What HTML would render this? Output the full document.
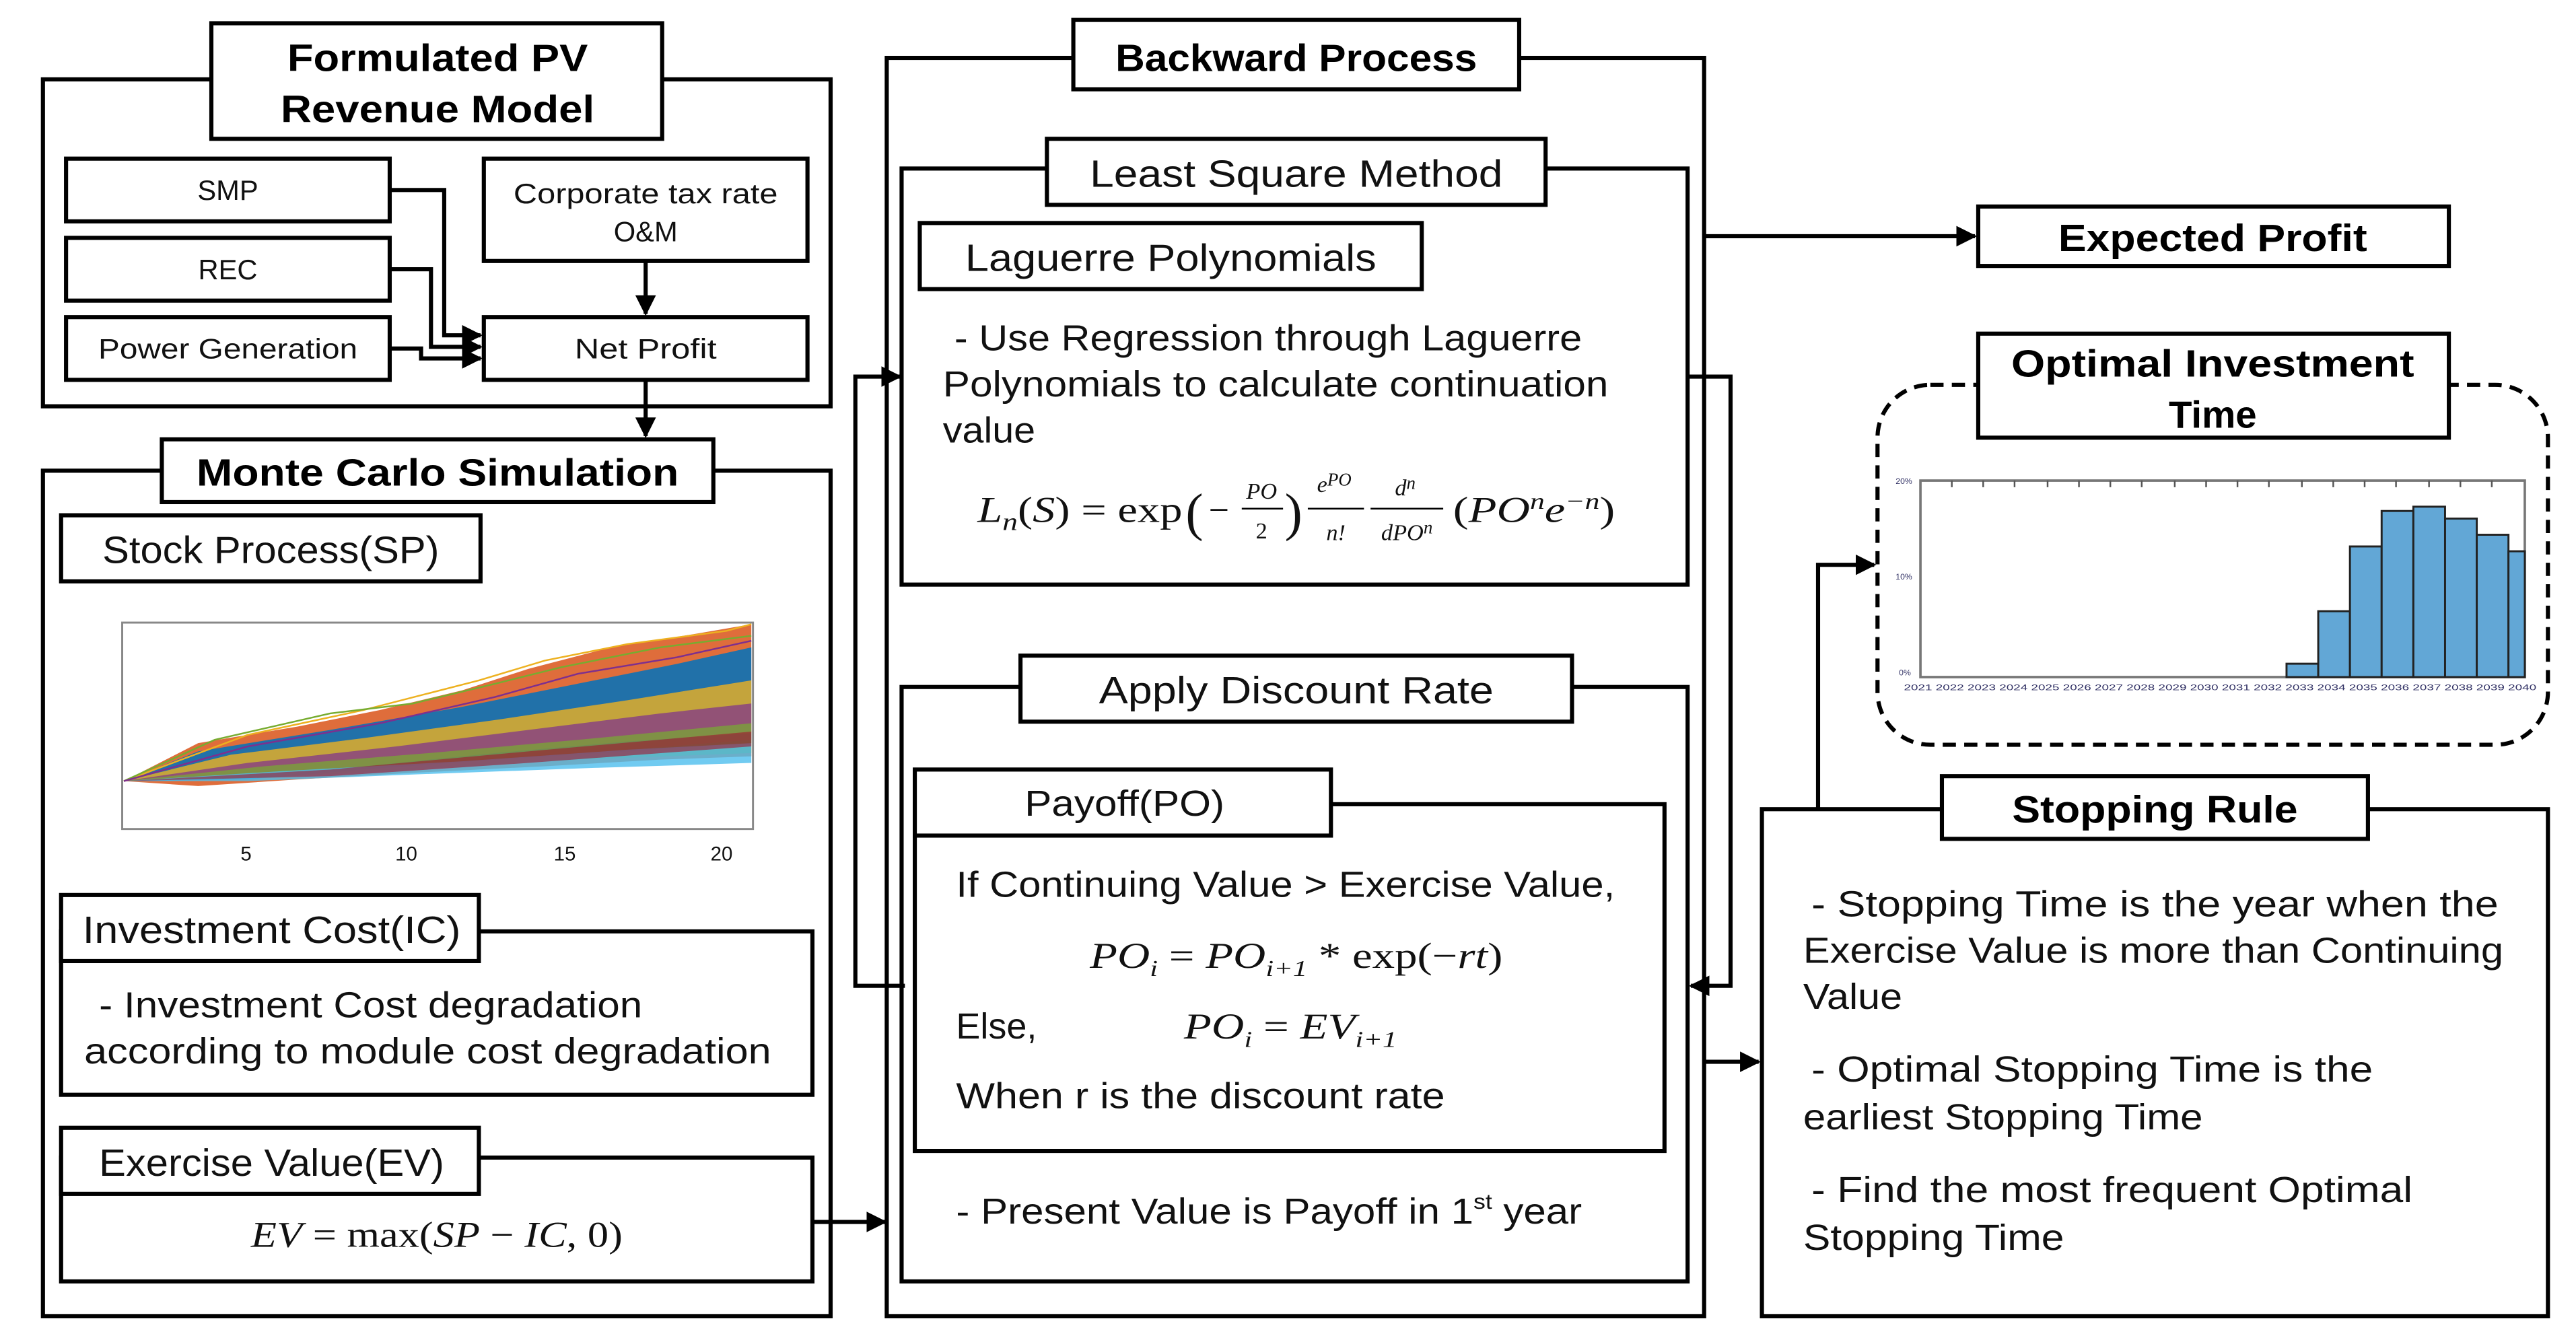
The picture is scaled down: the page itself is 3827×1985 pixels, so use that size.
<!DOCTYPE html>
<html><head><meta charset="utf-8"><style>
html,body{margin:0;padding:0;background:#fff;}
svg{display:block;}
.b{font-family:"Liberation Sans",sans-serif;font-weight:bold;font-size:23px;fill:#000;}
.t{font-family:"Liberation Sans",sans-serif;font-size:21px;fill:#111;}
.s{font-family:"Liberation Sans",sans-serif;font-size:17px;fill:#111;}
.m{font-family:"Liberation Serif",serif;font-style:italic;font-size:22px;fill:#111;}
.mn{font-family:"Liberation Serif",serif;font-size:22px;fill:#111;}
</style></head><body>
<svg width="3827" height="1985" viewBox="0 0 1560 809" xmlns="http://www.w3.org/2000/svg">
<defs>
<marker id="a" viewBox="0 0 10 10" refX="9" refY="5" markerWidth="5" markerHeight="5" orient="auto"><path d="M0,0L10,5L0,10z" fill="#000"/></marker>
</defs>
<g fill="none" stroke="#000" stroke-width="2.5">
<rect x="26" y="48" width="477" height="198"/>
<rect x="128" y="14" width="273" height="70" fill="#fff"/>
<rect x="40" y="96" width="196" height="38"/>
<rect x="40" y="144" width="196" height="38"/>
<rect x="40" y="192" width="196" height="38"/>
<rect x="293" y="96" width="196" height="62"/>
<rect x="293" y="192" width="196" height="38"/>
<path d="M236,115H269V203H291" marker-end="url(#a)"/>
<path d="M236,163H261V210H291" marker-end="url(#a)"/>
<path d="M236,211H255V217H291" marker-end="url(#a)"/>
<path d="M391,158V190" marker-end="url(#a)"/>
<path d="M391,230V264" marker-end="url(#a)"/>
<rect x="26" y="285" width="477" height="512"/>
<rect x="98" y="266" width="334" height="38" fill="#fff"/>
<rect x="37" y="312" width="254" height="40"/>
<rect x="37" y="564" width="455" height="99"/>
<rect x="37" y="542" width="253" height="40" fill="#fff"/>
<rect x="37" y="701" width="455" height="75"/>
<rect x="37" y="683" width="253" height="40" fill="#fff"/>
<path d="M492,740H536" marker-end="url(#a)"/>
<rect x="537" y="35" width="495" height="762"/>
<rect x="650" y="12" width="270" height="42" fill="#fff"/>
<rect x="546" y="102" width="476" height="252"/>
<rect x="634" y="84" width="302" height="40" fill="#fff"/>
<rect x="557" y="135" width="304" height="40"/>
<rect x="546" y="416" width="476" height="360"/>
<rect x="618" y="397" width="334" height="40" fill="#fff"/>
<rect x="554" y="487" width="454" height="210"/>
<rect x="554" y="466" width="252" height="40" fill="#fff"/>
<path d="M548,597H518V228H545" marker-end="url(#a)"/>
<path d="M1022,228H1048V597H1024" marker-end="url(#a)"/>
<path d="M1032,143H1196" marker-end="url(#a)"/>
<path d="M1032,643H1065" marker-end="url(#a)"/>
<rect x="1198" y="125" width="285" height="36"/>
<rect x="1137" y="233" width="406" height="218" rx="32" stroke-dasharray="8,5"/>
<rect x="1198" y="202" width="285" height="63" fill="#fff"/>
<rect x="1067" y="490" width="476" height="307"/>
<rect x="1176" y="470" width="258" height="38" fill="#fff"/>
<path d="M1101,490V342H1135" marker-end="url(#a)"/>
</g>
<text class="b" x="265" y="43" text-anchor="middle" textLength="182" lengthAdjust="spacingAndGlyphs">Formulated PV</text>
<text class="b" x="265" y="74" text-anchor="middle" textLength="190" lengthAdjust="spacingAndGlyphs">Revenue Model</text>
<text class="s" x="138" y="121" text-anchor="middle">SMP</text>
<text class="s" x="138" y="169" text-anchor="middle">REC</text>
<text class="s" x="138" y="217" text-anchor="middle" textLength="157" lengthAdjust="spacingAndGlyphs">Power Generation</text>
<text class="s" x="391" y="123" text-anchor="middle" textLength="160" lengthAdjust="spacingAndGlyphs">Corporate tax rate</text>
<text class="s" x="391" y="146" text-anchor="middle">O&amp;M</text>
<text class="s" x="391" y="217" text-anchor="middle" textLength="86" lengthAdjust="spacingAndGlyphs">Net Profit</text>
<text class="b" x="265" y="294" text-anchor="middle" textLength="292" lengthAdjust="spacingAndGlyphs">Monte Carlo Simulation</text>
<text class="t" x="62" y="341" textLength="204" lengthAdjust="spacingAndGlyphs" style="font-size:23px">Stock Process(SP)</text>
<text class="t" x="50" y="571" textLength="229" lengthAdjust="spacingAndGlyphs" style="font-size:23px">Investment Cost(IC)</text>
<text class="t" x="60" y="616" textLength="329" lengthAdjust="spacingAndGlyphs" style="font-size:22px">- Investment Cost degradation</text>
<text class="t" x="51" y="644" textLength="416" lengthAdjust="spacingAndGlyphs" style="font-size:22px">according to module cost degradation</text>
<text class="t" x="60" y="712" textLength="209" lengthAdjust="spacingAndGlyphs" style="font-size:23px">Exercise Value(EV)</text>
<text x="152" y="755" textLength="225" lengthAdjust="spacingAndGlyphs"><tspan class="m">EV</tspan><tspan class="mn"> = max(</tspan><tspan class="m">SP</tspan><tspan class="mn"> − </tspan><tspan class="m">IC</tspan><tspan class="mn">, 0)</tspan></text>
<g>
<rect x="74" y="377" width="382" height="125" fill="#fff" stroke="#888" stroke-width="1.2"/>
<polygon points="75,473 120,450 180,440 230,430 280,418 320,405 370,392 420,384 455,378 455,458 400,460 330,464 250,468 180,472 120,476" fill="#d95319" opacity="0.85"/>
<polygon points="75,473 120,455 200,442 280,428 350,414 410,402 455,392 455,450 380,455 300,460 220,466 150,472" fill="#0072bd" opacity="0.85"/>
<polygon points="75,473 140,457 220,447 300,436 380,424 455,412 455,444 380,449 300,456 220,464 140,470" fill="#edb120" opacity="0.8"/>
<polygon points="75,473 150,462 240,452 320,442 400,432 455,426 455,448 380,454 300,460 200,467" fill="#7e2f8e" opacity="0.7"/>
<polygon points="75,473 160,464 260,456 350,448 455,438 455,456 350,460 250,466 160,471" fill="#77ac30" opacity="0.7"/>
<polygon points="75,473 170,467 280,461 380,454 455,450 455,462 360,465 250,469 150,473" fill="#4dbeee" opacity="0.8"/>
<polygon points="75,473 200,466 320,455 455,443 455,452 320,462 200,470" fill="#a2142f" opacity="0.6"/>
<polyline points="75,473 150,445 220,430 290,412 330,400 380,390 440,382 455,378" fill="none" stroke="#edb120" stroke-width="1"/>
<polyline points="75,473 130,448 200,432 250,426 300,414 340,404 400,392 455,385" fill="none" stroke="#77ac30" stroke-width="1"/>
<polyline points="75,473 150,452 230,438 300,422 350,408 410,398 455,388" fill="none" stroke="#7e2f8e" stroke-width="1"/>
</g>
<g class="s" style="font-size:12px" text-anchor="middle">
<text x="149" y="521">5</text><text x="246" y="521">10</text><text x="342" y="521">15</text><text x="437" y="521">20</text>
</g>
<text class="b" x="785" y="43" text-anchor="middle" textLength="219" lengthAdjust="spacingAndGlyphs">Backward Process</text>
<text class="t" x="785" y="113" text-anchor="middle" textLength="250" lengthAdjust="spacingAndGlyphs" style="font-size:23px">Least Square Method</text>
<text class="t" x="709" y="164" text-anchor="middle" textLength="249" lengthAdjust="spacingAndGlyphs" style="font-size:23px">Laguerre Polynomials</text>
<text class="t" x="578" y="212" textLength="380" lengthAdjust="spacingAndGlyphs" style="font-size:22px">- Use Regression through Laguerre</text>
<text class="t" x="571" y="240" textLength="403" lengthAdjust="spacingAndGlyphs" style="font-size:22px">Polynomials to calculate continuation</text>
<text class="t" x="571" y="268" textLength="56" lengthAdjust="spacingAndGlyphs" style="font-size:22px">value</text>
<text x="592" y="316" textLength="124" lengthAdjust="spacingAndGlyphs"><tspan class="m">L</tspan><tspan class="m" style="font-size:15px" dy="5">n</tspan><tspan class="mn" dy="-5">(</tspan><tspan class="m">S</tspan><tspan class="mn">) = exp</tspan></text>
<text class="mn" x="718" y="321" style="font-size:32px">(</text>
<text class="mn" x="732" y="316">−</text>
<text class="m" x="764" y="302" text-anchor="middle" style="font-size:14px">PO</text>
<line x1="752" y1="308" x2="777" y2="308" stroke="#000" stroke-width="1"/>
<text class="mn" x="764" y="326" text-anchor="middle" style="font-size:14px">2</text>
<text class="mn" x="778" y="321" style="font-size:32px">)</text>
<text class="m" x="808" y="298" text-anchor="middle" style="font-size:14px">e<tspan style="font-size:11px" dy="-4">PO</tspan></text>
<line x1="792" y1="308" x2="826" y2="308" stroke="#000" stroke-width="1"/>
<text class="m" x="809" y="327" text-anchor="middle" style="font-size:14px">n!</text>
<text class="m" x="851" y="300" text-anchor="middle" style="font-size:14px">d<tspan style="font-size:11px" dy="-4">n</tspan></text>
<line x1="830" y1="308" x2="874" y2="308" stroke="#000" stroke-width="1"/>
<text class="m" x="852" y="327" text-anchor="middle" style="font-size:14px">dPO<tspan style="font-size:11px" dy="-4">n</tspan></text>
<text x="880" y="316" textLength="98" lengthAdjust="spacingAndGlyphs"><tspan class="mn">(</tspan><tspan class="m">PO</tspan><tspan class="m" style="font-size:14px" dy="-8">n</tspan><tspan class="m" dy="8">e</tspan><tspan class="m" style="font-size:14px" dy="-8">−n</tspan><tspan class="mn" dy="8">)</tspan></text>
<text class="t" x="785" y="426" text-anchor="middle" textLength="239" lengthAdjust="spacingAndGlyphs" style="font-size:23px">Apply Discount Rate</text>
<text class="t" x="681" y="494" text-anchor="middle" textLength="121" lengthAdjust="spacingAndGlyphs" style="font-size:22px">Payoff(PO)</text>
<text class="t" x="579" y="543" textLength="399" lengthAdjust="spacingAndGlyphs" style="font-size:22px">If Continuing Value &gt; Exercise Value,</text>
<text x="660" y="586" textLength="250" lengthAdjust="spacingAndGlyphs"><tspan class="m">PO</tspan><tspan class="m" style="font-size:14px" dy="5">i</tspan><tspan class="mn" dy="-5"> = </tspan><tspan class="m">PO</tspan><tspan class="m" style="font-size:14px" dy="5">i+1</tspan><tspan class="mn" dy="-5"> * exp(−</tspan><tspan class="m">rt</tspan><tspan class="mn">)</tspan></text>
<text class="t" x="579" y="629" style="font-size:22px">Else,</text>
<text x="717" y="629" textLength="129" lengthAdjust="spacingAndGlyphs"><tspan class="m">PO</tspan><tspan class="m" style="font-size:14px" dy="5">i</tspan><tspan class="mn" dy="-5"> = </tspan><tspan class="m">EV</tspan><tspan class="m" style="font-size:14px" dy="5">i+1</tspan></text>
<text class="t" x="579" y="671" textLength="296" lengthAdjust="spacingAndGlyphs" style="font-size:22px">When r is the discount rate</text>
<text class="t" x="579" y="741" textLength="379" lengthAdjust="spacingAndGlyphs" style="font-size:22px">- Present Value is Payoff in 1<tspan style="font-size:13px" dy="-9">st</tspan><tspan dy="9"> year</tspan></text>
<text class="b" x="1340" y="152" text-anchor="middle" textLength="187" lengthAdjust="spacingAndGlyphs">Expected Profit</text>
<text class="b" x="1340" y="228" text-anchor="middle" textLength="244" lengthAdjust="spacingAndGlyphs">Optimal Investment</text>
<text class="b" x="1340" y="259" text-anchor="middle">Time</text>
<g>
<rect x="1163" y="291" width="366" height="119" fill="#fff" stroke="#777" stroke-width="1.5"/>
<g fill="#62a7d6" stroke="#222" stroke-width="1.2">
<rect x="1384.7" y="401.9" width="19.2" height="8.1"/>
<rect x="1403.9" y="370.1" width="19.2" height="39.9"/>
<rect x="1423.1" y="330.9" width="19.2" height="79.1"/>
<rect x="1442.3" y="309.4" width="19.2" height="100.6"/>
<rect x="1461.5" y="306.8" width="19.2" height="103.2"/>
<rect x="1480.7" y="314" width="19.2" height="96"/>
<rect x="1499.9" y="323.8" width="19.2" height="86.2"/>
<rect x="1519.1" y="333.8" width="9.9" height="76.2"/>
</g>
<g stroke="#555" stroke-width="1">
<path d="M1182,291v4M1201,291v4M1220,291v4M1240,291v4M1259,291v4M1278,291v4M1297,291v4M1317,291v4M1336,291v4M1355,291v4M1374,291v4M1394,291v4M1413,291v4M1432,291v4M1451,291v4M1471,291v4M1490,291v4M1509,291v4"/>
</g>
<g style="font-family:'Liberation Sans',sans-serif;font-size:5px" fill="#336">
<text x="1148" y="293">20%</text><text x="1148" y="351">10%</text><text x="1150" y="409">0%</text>
<text x="1153" y="418" textLength="383" lengthAdjust="spacingAndGlyphs">2021 2022 2023 2024 2025 2026 2027 2028 2029 2030 2031 2032 2033 2034 2035 2036 2037 2038 2039 2040</text>
</g>
</g>
<text class="b" x="1305" y="498" text-anchor="middle" textLength="173" lengthAdjust="spacingAndGlyphs">Stopping Rule</text>
<text class="t" x="1097" y="555" textLength="416" lengthAdjust="spacingAndGlyphs" style="font-size:22px">- Stopping Time is the year when the</text>
<text class="t" x="1092" y="583" textLength="424" lengthAdjust="spacingAndGlyphs" style="font-size:22px">Exercise Value is more than Continuing</text>
<text class="t" x="1092" y="611" textLength="60" lengthAdjust="spacingAndGlyphs" style="font-size:22px">Value</text>
<text class="t" x="1097" y="655" textLength="340" lengthAdjust="spacingAndGlyphs" style="font-size:22px">- Optimal Stopping Time is the</text>
<text class="t" x="1092" y="684" textLength="242" lengthAdjust="spacingAndGlyphs" style="font-size:22px">earliest Stopping Time</text>
<text class="t" x="1097" y="728" textLength="364" lengthAdjust="spacingAndGlyphs" style="font-size:22px">- Find the most frequent Optimal</text>
<text class="t" x="1092" y="757" textLength="158" lengthAdjust="spacingAndGlyphs" style="font-size:22px">Stopping Time</text>
</svg>
</body></html>
